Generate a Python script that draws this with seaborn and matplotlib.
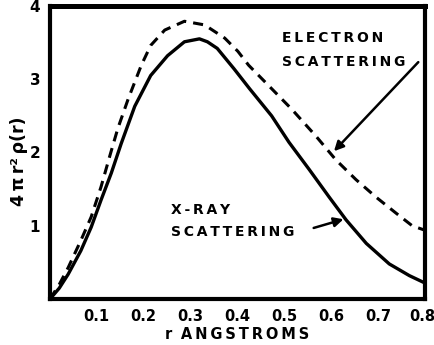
import matplotlib
matplotlib.use("Agg")
import matplotlib.pyplot as plt
import matplotlib.transforms as mtransforms
import seaborn as sns
import pandas as pd

# radial distance r (angstroms) and 4*pi*r^2*rho(r) for each measurement
r_xray = [0.0, 0.02, 0.039, 0.066, 0.088, 0.109, 0.131, 0.152, 0.181, 0.215,
          0.251, 0.287, 0.319, 0.336, 0.357, 0.393, 0.426, 0.473, 0.51, 0.553,
          0.596, 0.632, 0.675, 0.724, 0.767, 0.8]
d_xray = [0.0, 0.15, 0.34, 0.66, 0.98, 1.35, 1.72, 2.12, 2.63, 3.05,
          3.32, 3.51, 3.55, 3.51, 3.42, 3.14, 2.87, 2.5, 2.14, 1.77,
          1.39, 1.08, 0.76, 0.48, 0.32, 0.22]

r_elec = [0.0, 0.02, 0.039, 0.066, 0.088, 0.109, 0.129, 0.145, 0.167, 0.195,
          0.215, 0.245, 0.287, 0.33, 0.373, 0.401, 0.424, 0.467, 0.516, 0.568,
          0.61, 0.653, 0.696, 0.739, 0.773, 0.8]
d_elec = [0.0, 0.2, 0.43, 0.8, 1.12, 1.53, 1.98, 2.33, 2.73, 3.19,
          3.46, 3.67, 3.79, 3.74, 3.56, 3.38, 3.19, 2.91, 2.59, 2.22,
          1.9, 1.63, 1.39, 1.17, 1.0, 0.94]

x_ticks = [0.1, 0.2, 0.3, 0.4, 0.5, 0.6, 0.7, 0.8]
x_tick_labels = ["0.1", "0.2", "0.3", "0.4", "0.5", "0.6", "0.7", "0.8"]
y_ticks = [1, 2, 3, 4]
y_tick_labels = ["1", "2", "3", "4"]

sns.set_style("white")
plt.rcParams["font.family"] = ["DejaVu Sans"]
plt.rcParams["text.color"] = "black"

TS = "\u2009"  # thin space used to open up the hand lettering


def spaced(s):
    return TS.join(s)


df = pd.concat([
    pd.DataFrame({"r": r_xray, "density": d_xray, "method": "X-RAY"}),
    pd.DataFrame({"r": r_elec, "density": d_elec, "method": "ELECTRON"}),
])

fig = plt.figure(figsize=(4.34, 3.45), dpi=100)
ax = fig.add_axes([0.115, 0.133, 0.864, 0.850])

sns.lineplot(data=df[df.method == "X-RAY"], x="r", y="density", ax=ax,
             color="black", lw=2.4, legend=False)
sns.lineplot(data=df[df.method == "ELECTRON"], x="r", y="density", ax=ax,
             color="black", lw=2.2, legend=False)
ax.lines[1].set_dashes([3.3, 2.3])

ax.set_xlim(0, 0.8)
ax.set_ylim(0, 4)
ax.set_xticks(x_ticks)
ax.set_xticklabels(x_tick_labels, fontweight="bold", fontsize=10.5,
                   color="black")
ax.set_yticks(y_ticks)
ax.set_yticklabels(y_tick_labels, fontweight="bold", fontsize=11,
                   color="black")
ax.tick_params(axis="x", direction="in", length=5, width=1.5, pad=7,
               colors="black")
ax.tick_params(axis="y", direction="out", length=4, width=1.5, pad=3,
               colors="black")

# keep the last x label inside the figure edge
last = ax.get_xticklabels()[-1]
last.set_transform(last.get_transform() +
                   mtransforms.ScaledTranslation(-3 / 100, 0,
                                                 fig.dpi_scale_trans))

for s in ax.spines.values():
    s.set_linewidth(3)
    s.set_color("black")
ax.spines["top"].set_linewidth(3.6)

ax.set_xlabel("r" + TS * 3 + spaced("ANGSTROMS"), fontweight="bold",
              fontsize=10.5, labelpad=2, color="black")
ax.set_ylabel("4" + TS + "π" + TS + "r²" + TS + "ρ(r)", fontweight="bold",
              fontsize=12.5, color="black")
ax.yaxis.set_label_coords(-0.058, 0.47)

ax.text(0.495, 3.56, spaced("ELECTRON"), fontweight="bold", fontsize=10,
        ha="left", va="center")
ax.text(0.495, 3.24, spaced("SCATTERING"), fontweight="bold", fontsize=10,
        ha="left", va="center")
ax.annotate("", xy=(0.602, 1.99), xytext=(0.79, 3.26),
            arrowprops=dict(arrowstyle="-|>", color="black", lw=1.8,
                            mutation_scale=14))

ax.text(0.259, 1.21, spaced("X-RAY"), fontweight="bold", fontsize=10,
        ha="left", va="center")
ax.text(0.259, 0.91, spaced("SCATTERING"), fontweight="bold", fontsize=10,
        ha="left", va="center")
ax.annotate("", xy=(0.632, 1.1), xytext=(0.557, 0.96),
            arrowprops=dict(arrowstyle="-|>", color="black", lw=1.8,
                            mutation_scale=14))

fig.savefig("out.png", dpi=100)
